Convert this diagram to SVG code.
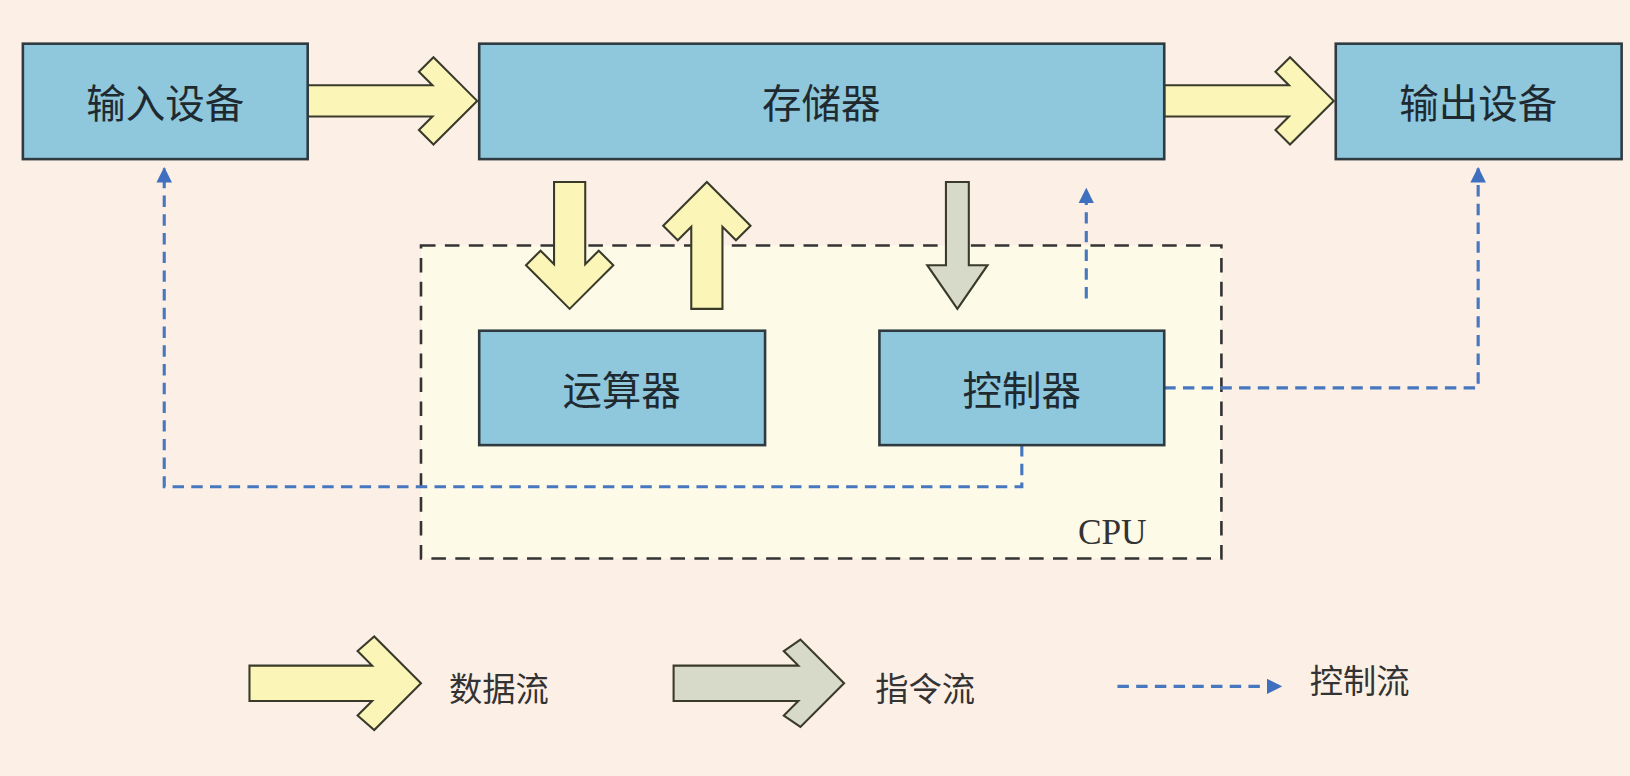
<svg xmlns="http://www.w3.org/2000/svg" width="1630" height="776" viewBox="0 0 1630 776">
<style>
.node{fill:#8fc7dd;stroke:#2f3b40;stroke-width:2.5}
.t{font-family:"Noto Sans CJK SC","Noto Sans",sans-serif;font-size:38px;fill:#1e2a30;text-anchor:middle;dominant-baseline:central}
.lg{font-family:"Noto Sans CJK SC","Noto Sans",sans-serif;font-size:32px;fill:#333;dominant-baseline:central}
.data{fill:#fbf6b8;stroke:#3a3a2a;stroke-width:2}
.ins{fill:#d7d9c9;stroke:#3a3a2a;stroke-width:2}
.ctl{fill:none;stroke:#4677bf;stroke-width:3;stroke-dasharray:11 7}
</style>
<defs>
<marker id="ah" viewBox="0 0 10 10" refX="9" refY="5" markerWidth="5" markerHeight="5" orient="auto" markerUnits="strokeWidth"><path d="M0,0 L10,5 L0,10 Z" fill="#3f6fbf"/></marker>
</defs>
<rect x="0" y="0" width="1630" height="776" fill="#fcefe6"/>
<g transform="scale(1.0395,1.04)">
<g id="cpu"><rect x="405" y="236" width="770" height="301" fill="#fdfbe8" stroke="#333" stroke-width="2.5" stroke-dasharray="14 9"/><text x="1070" y="512" font-family="Liberation Serif,serif" font-size="34" fill="#333" text-anchor="middle" dominant-baseline="central">CPU</text></g>
<g id="connectors">
<path class="data" d="M296,82 L416,82 L403,69 L417,55 L459,97 L417,139 L403,125 L416,112 L296,112 Z"/>
<path class="data" d="M1120,82 L1240,82 L1227,69 L1241,55 L1283,97 L1241,139 L1227,125 L1240,112 L1120,112 Z"/>
<path class="data" transform="translate(548,297) rotate(90)" d="M-122,-15 L-43,-15 L-56,-28 L-42,-42 L0,0 L-42,42 L-56,28 L-43,15 L-122,15 Z"/>
<path class="data" transform="translate(680,175) rotate(-90)" d="M-122,-15 L-43,-15 L-56,-28 L-42,-42 L0,0 L-42,42 L-56,28 L-43,15 L-122,15 Z"/>
<path class="ins" d="M910,175 L932,175 L932,255 L950,255 L921,297 L892,255 L910,255 Z"/>
<polyline class="ctl" points="983,428 983,468 158,468 158,162" marker-end="url(#ah)"/>
<polyline class="ctl" points="1120,373 1422,373 1422,162" marker-end="url(#ah)"/>
<polyline class="ctl" points="1045,287 1045,182" marker-end="url(#ah)"/>
</g>
<g id="n1"><rect class="node" x="22" y="42" width="274" height="111"/><text class="t" x="159" y="97">输入设备</text></g>
<g id="n2"><rect class="node" x="461" y="42" width="659" height="111"/><text class="t" x="790" y="97">存储器</text></g>
<g id="n3"><rect class="node" x="1285" y="42" width="275" height="111"/><text class="t" x="1422" y="97">输出设备</text></g>
<g id="n4"><rect class="node" x="461" y="318" width="275" height="110"/><text class="t" x="598" y="373">运算器</text></g>
<g id="n5"><rect class="node" x="846" y="318" width="274" height="110"/><text class="t" x="983" y="373">控制器</text></g>
<g id="legend">
<path class="data" d="M240,640 L358,640 L344,626 L360,612 L405,657 L360,702 L344,688 L358,674 L240,674 Z"/>
<text class="lg" x="432" y="660">数据流</text>
<path class="ins" d="M648,640 L768,640 L754,626 L770,615 L812,657 L770,699 L754,688 L768,674 L648,674 Z"/>
<text class="lg" x="842" y="660">指令流</text>
<line class="ctl" x1="1075" y1="660" x2="1232" y2="660" marker-end="url(#ah)"/>
<text class="lg" x="1260" y="652">控制流</text>
</g>
</g>
</svg>
